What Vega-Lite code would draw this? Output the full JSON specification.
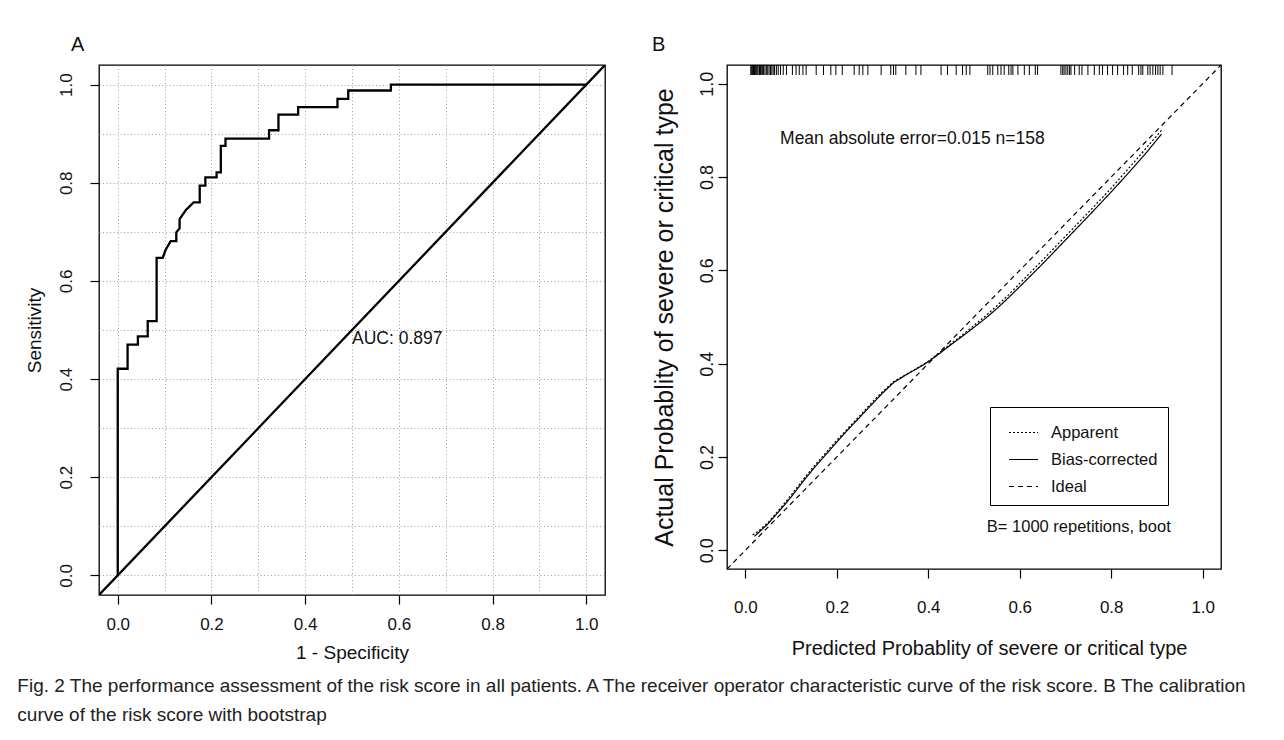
{
  "$schema": "https://vega.github.io/schema/vega-lite/v6.json",
  "background": "white",
  "padding": {"left": 17, "top": 33, "right": 10, "bottom": 3},
  "config": {
    "view": {"stroke": "black", "strokeWidth": 1.3},
    "font": "Liberation Sans",
    "axis": {"domain": false, "tickColor": "black", "tickWidth": 1.2, "labelColor": "#111", "titleColor": "#111", "titleFontWeight": "normal", "grid": false, "labelFlush": false, "labelOverlap": false}
  },
  "resolve": {"legend": {"strokeDash": "independent"}},
  "title": {
    "text": ["Fig. 2  The performance assessment of the risk score in all patients. A The receiver operator characteristic curve of the risk score. B The calibration", "curve of the risk score with bootstrap"],
    "orient": "bottom", "anchor": "start", "frame": "bounds", "font": "Liberation Sans", "fontSize": 19, "fontWeight": "normal", "lineHeight": 29, "offset": 14, "dx": -7, "color": "#222"
  },
  "datasets": {
    "roc": [
      {"i": 0, "fpr": 0, "tpr": 0}, {"i": 1, "fpr": 0, "tpr": 0.421}, {"i": 2, "fpr": 0.021, "tpr": 0.421}, {"i": 3, "fpr": 0.021, "tpr": 0.47},
      {"i": 4, "fpr": 0.043, "tpr": 0.47}, {"i": 5, "fpr": 0.043, "tpr": 0.487}, {"i": 6, "fpr": 0.064, "tpr": 0.487}, {"i": 7, "fpr": 0.064, "tpr": 0.518},
      {"i": 8, "fpr": 0.083, "tpr": 0.518}, {"i": 9, "fpr": 0.083, "tpr": 0.647}, {"i": 10, "fpr": 0.096, "tpr": 0.647}, {"i": 11, "fpr": 0.102, "tpr": 0.663},
      {"i": 12, "fpr": 0.113, "tpr": 0.681}, {"i": 13, "fpr": 0.125, "tpr": 0.681}, {"i": 14, "fpr": 0.125, "tpr": 0.699}, {"i": 15, "fpr": 0.132, "tpr": 0.707},
      {"i": 16, "fpr": 0.132, "tpr": 0.726}, {"i": 17, "fpr": 0.145, "tpr": 0.744}, {"i": 18, "fpr": 0.162, "tpr": 0.76}, {"i": 19, "fpr": 0.175, "tpr": 0.76},
      {"i": 20, "fpr": 0.175, "tpr": 0.794}, {"i": 21, "fpr": 0.187, "tpr": 0.794}, {"i": 22, "fpr": 0.187, "tpr": 0.811}, {"i": 23, "fpr": 0.211, "tpr": 0.811},
      {"i": 24, "fpr": 0.211, "tpr": 0.821}, {"i": 25, "fpr": 0.22, "tpr": 0.821}, {"i": 26, "fpr": 0.22, "tpr": 0.875}, {"i": 27, "fpr": 0.23, "tpr": 0.875},
      {"i": 28, "fpr": 0.23, "tpr": 0.89}, {"i": 29, "fpr": 0.323, "tpr": 0.89}, {"i": 30, "fpr": 0.323, "tpr": 0.907}, {"i": 31, "fpr": 0.343, "tpr": 0.907},
      {"i": 32, "fpr": 0.343, "tpr": 0.939}, {"i": 33, "fpr": 0.385, "tpr": 0.939}, {"i": 34, "fpr": 0.385, "tpr": 0.954}, {"i": 35, "fpr": 0.469, "tpr": 0.954},
      {"i": 36, "fpr": 0.469, "tpr": 0.971}, {"i": 37, "fpr": 0.492, "tpr": 0.971}, {"i": 38, "fpr": 0.492, "tpr": 0.988}, {"i": 39, "fpr": 0.583, "tpr": 0.988},
      {"i": 40, "fpr": 0.583, "tpr": 1.0}, {"i": 41, "fpr": 1.0, "tpr": 1.0}
    ],
    "diag": [{"fpr": -0.04, "tpr": -0.04}, {"fpr": 1.04, "tpr": 1.04}],
    "auc": [{"label": "AUC: 0.897"}],
    "calib": [
      {"series": "Apparent", "pred": 0.016, "actual": 0.033}, {"series": "Apparent", "pred": 0.03, "actual": 0.042}, {"series": "Apparent", "pred": 0.05, "actual": 0.06},
      {"series": "Apparent", "pred": 0.075, "actual": 0.088}, {"series": "Apparent", "pred": 0.1, "actual": 0.118}, {"series": "Apparent", "pred": 0.125, "actual": 0.15},
      {"series": "Apparent", "pred": 0.15, "actual": 0.18}, {"series": "Apparent", "pred": 0.175, "actual": 0.208}, {"series": "Apparent", "pred": 0.2, "actual": 0.236},
      {"series": "Apparent", "pred": 0.225, "actual": 0.262}, {"series": "Apparent", "pred": 0.25, "actual": 0.288}, {"series": "Apparent", "pred": 0.275, "actual": 0.315},
      {"series": "Apparent", "pred": 0.3, "actual": 0.34}, {"series": "Apparent", "pred": 0.325, "actual": 0.362}, {"series": "Apparent", "pred": 0.35, "actual": 0.376},
      {"series": "Apparent", "pred": 0.375, "actual": 0.39}, {"series": "Apparent", "pred": 0.4, "actual": 0.405}, {"series": "Apparent", "pred": 0.425, "actual": 0.424},
      {"series": "Apparent", "pred": 0.45, "actual": 0.443}, {"series": "Apparent", "pred": 0.475, "actual": 0.462}, {"series": "Apparent", "pred": 0.5, "actual": 0.482},
      {"series": "Apparent", "pred": 0.525, "actual": 0.502}, {"series": "Apparent", "pred": 0.55, "actual": 0.524}, {"series": "Apparent", "pred": 0.575, "actual": 0.547},
      {"series": "Apparent", "pred": 0.6, "actual": 0.572}, {"series": "Apparent", "pred": 0.65, "actual": 0.622}, {"series": "Apparent", "pred": 0.7, "actual": 0.673},
      {"series": "Apparent", "pred": 0.75, "actual": 0.724}, {"series": "Apparent", "pred": 0.8, "actual": 0.776}, {"series": "Apparent", "pred": 0.85, "actual": 0.832},
      {"series": "Apparent", "pred": 0.88, "actual": 0.866}, {"series": "Apparent", "pred": 0.91, "actual": 0.9},
      {"series": "Bias-corrected", "pred": 0.02, "actual": 0.03}, {"series": "Bias-corrected", "pred": 0.05, "actual": 0.057}, {"series": "Bias-corrected", "pred": 0.075, "actual": 0.085},
      {"series": "Bias-corrected", "pred": 0.1, "actual": 0.114}, {"series": "Bias-corrected", "pred": 0.125, "actual": 0.146}, {"series": "Bias-corrected", "pred": 0.15, "actual": 0.176},
      {"series": "Bias-corrected", "pred": 0.175, "actual": 0.204}, {"series": "Bias-corrected", "pred": 0.2, "actual": 0.232}, {"series": "Bias-corrected", "pred": 0.225, "actual": 0.259},
      {"series": "Bias-corrected", "pred": 0.25, "actual": 0.285}, {"series": "Bias-corrected", "pred": 0.275, "actual": 0.311}, {"series": "Bias-corrected", "pred": 0.3, "actual": 0.337},
      {"series": "Bias-corrected", "pred": 0.325, "actual": 0.36}, {"series": "Bias-corrected", "pred": 0.35, "actual": 0.375}, {"series": "Bias-corrected", "pred": 0.375, "actual": 0.389},
      {"series": "Bias-corrected", "pred": 0.4, "actual": 0.404}, {"series": "Bias-corrected", "pred": 0.425, "actual": 0.422}, {"series": "Bias-corrected", "pred": 0.45, "actual": 0.441},
      {"series": "Bias-corrected", "pred": 0.475, "actual": 0.459}, {"series": "Bias-corrected", "pred": 0.5, "actual": 0.478}, {"series": "Bias-corrected", "pred": 0.525, "actual": 0.497},
      {"series": "Bias-corrected", "pred": 0.55, "actual": 0.518}, {"series": "Bias-corrected", "pred": 0.575, "actual": 0.541}, {"series": "Bias-corrected", "pred": 0.6, "actual": 0.565},
      {"series": "Bias-corrected", "pred": 0.65, "actual": 0.614}, {"series": "Bias-corrected", "pred": 0.7, "actual": 0.665}, {"series": "Bias-corrected", "pred": 0.75, "actual": 0.716},
      {"series": "Bias-corrected", "pred": 0.8, "actual": 0.768}, {"series": "Bias-corrected", "pred": 0.85, "actual": 0.822}, {"series": "Bias-corrected", "pred": 0.88, "actual": 0.856},
      {"series": "Bias-corrected", "pred": 0.91, "actual": 0.892},
      {"series": "Ideal", "pred": -0.04, "actual": -0.04}, {"series": "Ideal", "pred": 1.04, "actual": 1.04}
    ],
    "rug": [
      {"pred": 0.012}, {"pred": 0.014}, {"pred": 0.016}, {"pred": 0.018}, {"pred": 0.02}, {"pred": 0.022}, {"pred": 0.024}, {"pred": 0.026}, {"pred": 0.028},
      {"pred": 0.031}, {"pred": 0.033}, {"pred": 0.035}, {"pred": 0.038}, {"pred": 0.04}, {"pred": 0.043}, {"pred": 0.046}, {"pred": 0.049}, {"pred": 0.052},
      {"pred": 0.055}, {"pred": 0.058}, {"pred": 0.061}, {"pred": 0.064}, {"pred": 0.068}, {"pred": 0.072}, {"pred": 0.077}, {"pred": 0.083},
      {"pred": 0.09}, {"pred": 0.103}, {"pred": 0.111}, {"pred": 0.118}, {"pred": 0.126}, {"pred": 0.133}, {"pred": 0.155}, {"pred": 0.171}, {"pred": 0.187},
      {"pred": 0.198}, {"pred": 0.212}, {"pred": 0.238}, {"pred": 0.249}, {"pred": 0.257}, {"pred": 0.268}, {"pred": 0.297}, {"pred": 0.318}, {"pred": 0.324},
      {"pred": 0.329}, {"pred": 0.351}, {"pred": 0.373}, {"pred": 0.384}, {"pred": 0.428}, {"pred": 0.442}, {"pred": 0.461}, {"pred": 0.475}, {"pred": 0.483},
      {"pred": 0.491}, {"pred": 0.53}, {"pred": 0.535}, {"pred": 0.541}, {"pred": 0.552}, {"pred": 0.559}, {"pred": 0.566}, {"pred": 0.576}, {"pred": 0.581},
      {"pred": 0.585}, {"pred": 0.596}, {"pred": 0.61}, {"pred": 0.621}, {"pred": 0.634}, {"pred": 0.639}, {"pred": 0.69}, {"pred": 0.694}, {"pred": 0.697},
      {"pred": 0.701}, {"pred": 0.705}, {"pred": 0.709}, {"pred": 0.712}, {"pred": 0.72}, {"pred": 0.73}, {"pred": 0.736}, {"pred": 0.749}, {"pred": 0.763},
      {"pred": 0.774}, {"pred": 0.781}, {"pred": 0.792}, {"pred": 0.803}, {"pred": 0.814}, {"pred": 0.827}, {"pred": 0.836}, {"pred": 0.846}, {"pred": 0.86},
      {"pred": 0.865}, {"pred": 0.869}, {"pred": 0.88}, {"pred": 0.885}, {"pred": 0.891}, {"pred": 0.897}, {"pred": 0.902}, {"pred": 0.907}, {"pred": 0.913},
      {"pred": 0.933}
    ],
    "notesB": [{"mae": "Mean absolute error=0.015 n=158", "boot": "B= 1000 repetitions, boot"}]
  },
  "spacing": 45,
  "hconcat": [
    {
      "width": 506,
      "height": 530,
      "title": {"text": "A", "anchor": "start", "frame": "group", "dx": -28, "offset": -6, "baseline": "alphabetic", "font": "Liberation Sans", "fontSize": 20, "fontWeight": "normal", "color": "#111"},
      "layer": [
        {
          "data": {"name": "roc"},
          "mark": {"type": "line", "color": "black", "strokeWidth": 2.3},
          "encoding": {
            "x": {
              "field": "fpr", "type": "quantitative",
              "scale": {"domain": [-0.04, 1.04], "nice": false, "zero": false},
              "axis": {
                "title": "1 - Specificity",
                "values": [0, 0.1, 0.2, 0.3, 0.4, 0.5, 0.6, 0.7, 0.8, 0.9, 1.0],
                "labelExpr": "round(datum.value*10) % 2 == 0 ? format(datum.value, '.1f') : ''",
                "tickOpacity": {"condition": {"test": "round(datum.value*10) % 2 == 0", "value": 1}, "value": 0},
                "tickSize": 9, "labelPadding": 12, "labelFontSize": 17,
                "titleFontSize": 19, "titlePadding": 12, "minExtent": 36, "maxExtent": 36,
                "grid": true, "gridColor": "#a0a0a0", "gridDash": [1, 2.5], "gridWidth": 1
              }
            },
            "y": {
              "field": "tpr", "type": "quantitative",
              "scale": {"domain": [-0.04, 1.04], "nice": false, "zero": false},
              "axis": {
                "title": "Sensitivity",
                "values": [0, 0.1, 0.2, 0.3, 0.4, 0.5, 0.6, 0.7, 0.8, 0.9, 1.0],
                "labelExpr": "round(datum.value*10) % 2 == 0 ? format(datum.value, '.1f') : ''",
                "tickOpacity": {"condition": {"test": "round(datum.value*10) % 2 == 0", "value": 1}, "value": 0},
                "labelAngle": -90, "labelAlign": "center", "labelBaseline": "alphabetic",
                "tickSize": 9, "labelPadding": 19, "labelFontSize": 17,
                "titleFontSize": 19, "titlePadding": 11, "titleBaseline": "bottom",
                "minExtent": 44, "maxExtent": 44,
                "grid": true, "gridColor": "#a0a0a0", "gridDash": [1, 2.5], "gridWidth": 1
              }
            },
            "order": {"field": "i", "type": "quantitative"}
          }
        },
        {
          "data": {"name": "diag"},
          "mark": {"type": "line", "color": "black", "strokeWidth": 2.3, "clip": true},
          "encoding": {
            "x": {"field": "fpr", "type": "quantitative"},
            "y": {"field": "tpr", "type": "quantitative"}
          }
        },
        {
          "data": {"name": "auc"},
          "mark": {"type": "text", "align": "left", "baseline": "middle", "fontSize": 17.5, "color": "#111"},
          "encoding": {
            "x": {"datum": 0.5},
            "y": {"datum": 0.481},
            "text": {"field": "label"}
          }
        }
      ]
    },
    {
      "width": 494,
      "height": 504,
      "title": {"text": "B", "anchor": "start", "frame": "group", "dx": -75, "offset": -6, "baseline": "alphabetic", "font": "Liberation Sans", "fontSize": 20, "fontWeight": "normal", "color": "#111"},
      "layer": [
        {
          "data": {"name": "calib"},
          "mark": {"type": "line", "color": "black", "strokeWidth": 1.2, "clip": true},
          "encoding": {
            "x": {
              "field": "pred", "type": "quantitative",
              "scale": {"domain": [-0.04, 1.04], "nice": false, "zero": false},
              "axis": {
                "title": "Predicted Probablity of severe or critical type",
                "values": [0, 0.2, 0.4, 0.6, 0.8, 1.0], "format": ".1f",
                "tickSize": 9, "labelPadding": 21, "labelFontSize": 17,
                "titleFontSize": 20, "titlePadding": 19, "minExtent": 50, "maxExtent": 50,
                "titleX": 262
              }
            },
            "y": {
              "field": "actual", "type": "quantitative",
              "scale": {"domain": [-0.04, 1.04], "nice": false, "zero": false},
              "axis": {
                "title": "Actual Probablity of severe or critical type",
                "values": [0, 0.2, 0.4, 0.6, 0.8, 1.0], "format": ".1f",
                "labelAngle": -90, "labelAlign": "center", "labelBaseline": "alphabetic",
                "tickSize": 9, "labelPadding": 6, "labelFontSize": 18,
                "titleFontSize": 25, "titlePadding": 18, "titleBaseline": "bottom",
                "minExtent": 32, "maxExtent": 32
              }
            },
            "strokeDash": {
              "field": "series", "type": "nominal",
              "scale": {"domain": ["Apparent", "Bias-corrected", "Ideal"], "range": [[2, 2], [1, 0], [5, 4]]},
              "legend": {
                "title": null, "orient": "none", "legendX": 263, "legendY": 342,
                "strokeColor": "black", "fillColor": "white",
                "padding": 10, "symbolType": "stroke", "symbolSize": 841,
                "symbolStrokeWidth": 1.2, "symbolStrokeColor": "black", "symbolOffset": 8,
                "labelFontSize": 16.5, "labelColor": "#111",
                "labelOffset": 12, "rowPadding": 3
              }
            }
          }
        },
        {
          "data": {"name": "rug"},
          "mark": {"type": "rule", "color": "black", "strokeWidth": 1},
          "encoding": {
            "x": {"field": "pred", "type": "quantitative"},
            "y": {"datum": 1.04},
            "y2": {"datum": 1.0186}
          }
        },
        {
          "data": {"name": "notesB"},
          "mark": {"type": "text", "align": "left", "baseline": "middle", "fontSize": 17.5, "color": "#111"},
          "encoding": {
            "x": {"datum": 0.076},
            "y": {"datum": 0.881},
            "text": {"field": "mae"}
          }
        },
        {
          "data": {"name": "notesB"},
          "mark": {"type": "text", "align": "left", "baseline": "middle", "fontSize": 16.5, "color": "#111"},
          "encoding": {
            "x": {"datum": 0.528},
            "y": {"datum": 0.0506},
            "text": {"field": "boot"}
          }
        }
      ]
    }
  ]
}
